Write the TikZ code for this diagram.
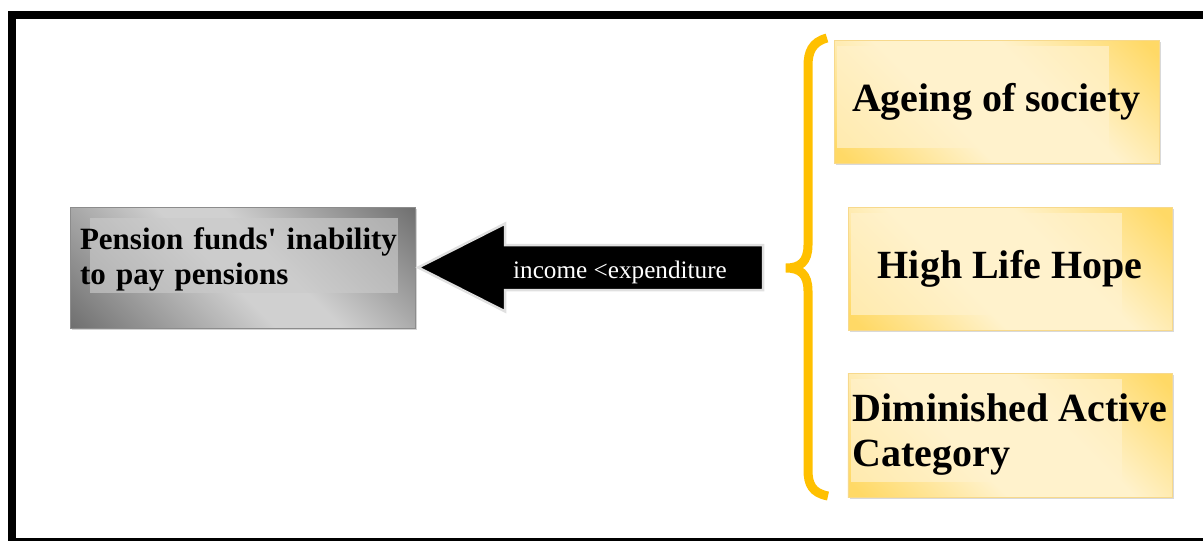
\documentclass[tikz,border=0pt]{standalone}
\usepackage{fontspec}
\setmainfont{Liberation Serif}[Ligatures=TeXOff]
\usepackage{tikz}
\usetikzlibrary{shadows}

\definecolor{goldDark}{HTML}{FFD966}
\definecolor{goldLight}{HTML}{FFF2CC}
\definecolor{goldEdge}{HTML}{F7D98C}
\definecolor{braceGold}{HTML}{FFC000}
\definecolor{grayDark}{HTML}{6A6A6A}
\definecolor{grayLight}{HTML}{D0D0D0}

% dark corners, light middle
\pgfdeclarehorizontalshading{graydiag}{100bp}{color(0bp)=(grayDark); color(13bp)=(grayDark);
    color(46bp)=(grayLight); color(56bp)=(grayLight); color(87bp)=(grayDark); color(100bp)=(grayDark)}
\pgfdeclarehorizontalshading{golddiag}{100bp}{color(0bp)=(goldDark); color(17bp)=(goldDark);
    color(40bp)=(goldLight); color(60bp)=(goldLight); color(83bp)=(goldDark); color(100bp)=(goldDark)}

\begin{document}
\begin{tikzpicture}[
    x=1pt, y=-1pt, % pixel grid, y going down
    graybox/.style={
        draw=black!45, % thin grey border
        shading=graydiag, shading angle=45,
        drop shadow={shadow xshift=2pt, shadow yshift=-2pt, opacity=.35},
        path picture={\fill[grayLight!97!black, opacity=.65]
            ([xshift=20pt,yshift=-11pt]path picture bounding box.north west)
            rectangle ([xshift=-17pt,yshift=35pt]path picture bounding box.south east);},
        inner xsep=10pt,
        font=\fontsize{31}{35}\selectfont\bfseries
    },
    goldbox/.style={
        draw=goldEdge, % light gold border
        shading=golddiag, shading angle=45,
        drop shadow={shadow xshift=2pt, shadow yshift=-2pt, opacity=.3},
        path picture={\fill[goldLight, opacity=.7]
            ([xshift=3pt,yshift=-6pt]path picture bounding box.north west)
            rectangle ([xshift=-50pt,yshift=15pt]path picture bounding box.south east);},
        inner xsep=5pt,
        font=\fontsize{40}{45}\selectfont\bfseries
    },
    blockarrow/.style={fill=black, draw=black!12, line width=2.5pt, line join=miter},
    arrowlabel/.style={text=white, anchor=base, inner sep=0pt, font=\fontsize{25.2}{28}\selectfont},
    bracestyle/.style={draw=braceGold, line width=9pt}
]
\useasboundingbox (0,0) rectangle (1203,541);

% outer frame
\draw[line width=8pt] (12,15) rectangle (1215,542);

% result on the left
\node[graybox, minimum width=345pt, minimum height=121pt, text width=325pt,
      align=left, text depth=57pt] (pension) at (242.5,267.5)
    {Pension funds' inability\\to pay pensions};

% causes on the right
\node[goldbox, minimum width=325pt, minimum height=123pt] (ageing) at (996.5,101.5)
    {Ageing of society};
\node[goldbox, minimum width=324pt, minimum height=123pt] (hope) at (1010,268.5)
    {High Life Hope};
\node[goldbox, minimum width=324pt, minimum height=124pt, align=left] (active) at (1010,435)
    {Diminished Active\\Category};

% brace grouping the causes
\coordinate (bracetop) at (827,38);
\coordinate (bracemid) at (786,268);
\coordinate (bracebot) at (828,496);
\draw[bracestyle] (bracetop) .. controls (812,42) and (808,52) .. (808,66)
    -- (808,245) .. controls (808,262) and (800,268) .. (bracemid)
    .. controls (800,268) and (808,274) .. (808,291)
    -- (808,470) .. controls (808,484) and (812,493) .. (bracebot);

% block arrow towards the result
\coordinate (tip) at ([xshift=3pt]pension.east);
\draw[blockarrow] (tip) -- ++(87,-44) -- ++(0,21.5) -- ++(258,0) -- ++(0,45)
    -- ++(-258,0) -- ++(0,21.5) -- cycle;
\node[arrowlabel] (balance) at (620,278) {income <expenditure};
\end{tikzpicture}
\end{document}
